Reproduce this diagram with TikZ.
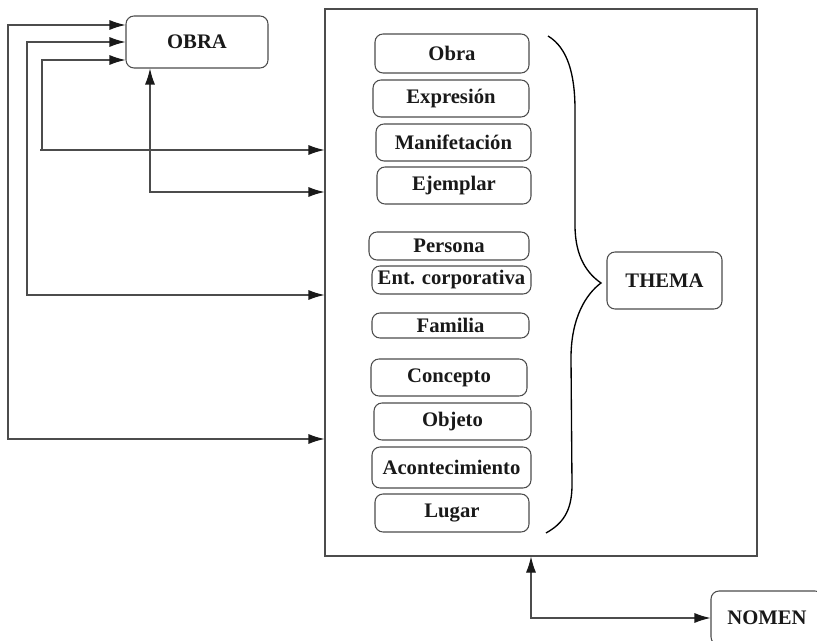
\documentclass[tikz,border=0pt]{standalone}
\usepackage{fontspec}
\setmainfont{Liberation Serif}
\usetikzlibrary{arrows.meta}
\begin{document}
\begin{tikzpicture}[x=0.75pt,y=-0.75pt,
    >={Latex[length=12pt,width=7.5pt,color=black!90]},
    linea/.style={draw=black!70,line width=0.8pt},
    caja/.style={linea,rounded corners=6pt,inner sep=2pt,
      font=\fontsize{15.5}{18}\selectfont\bfseries,text=black!90}]
    \useasboundingbox (0,0) rectangle (817,641);
    \clip (0,0) rectangle (817,641);

    \node[linea,minimum width=432*0.75pt,minimum height=547*0.75pt] (marco) at (541,282.5) {};
    \node[caja,minimum width=142*0.75pt,minimum height=52*0.75pt] (obra) at (197,42) {OBRA};
    \node[caja,minimum width=115*0.75pt,minimum height=57*0.75pt] (thema) at (664.5,280.5) {THEMA};
    \node[caja,minimum width=112*0.75pt,minimum height=54*0.75pt] (nomen) at (767,618) {NOMEN};

    \foreach \x/\y/\w/\h/\t [count=\i] in {452/53.5/154/39/Obra, 451/98.5/156/37/Expresión,
        453.5/142.5/155/37/Manifetación, 454/185.5/154/37/Ejemplar, 449/246/160/28/Persona,
        451.5/280/159/28/Ent. corporativa, 450.5/325.5/157/25/Familia, 449/377.5/156/37/Concepto,
        452.5/421.5/157/37/Objeto, 451.5/467.5/159/41/Acontecimiento, 452/513/154/38/Lugar} {
        \node[caja,minimum width=\w*0.75pt,minimum height=\h*0.75pt] (ent\i) at (\x,\y) {\t};
    }

    % llave
    \draw[line width=1pt] (548,36) .. controls (568,48) and (575,75) .. (575,110)
        -- (575,225) .. controls (575,258) and (588,274) .. (601,283)
        .. controls (586,294) and (571,318) .. (571,358)
        -- (572,485) .. controls (572,512) and (562,524) .. (546,533);

    \coordinate (l1) at (8,439);
    \coordinate (l2) at (27,295);
    \coordinate (l3) at (42,150);
    \coordinate (l4) at (150,192);
    \coordinate (l5) at (531,618);

    \draw[linea,<->] (obra.west |- 0,25) -| (l1) -- (marco.west |- l1);
    \draw[linea,<->] (obra.west |- 0,42) -| (l2) -- (marco.west |- l2);
    \draw[linea,<->] (obra.west |- 0,60) -| (l3) -- (marco.west |- l3);
    \draw[linea] (l3) -- ++(-2,0);
    \draw[linea,<->] (obra.south -| l4) -- (l4) -- (marco.west |- l4);
    \draw[linea,<->] (marco.south -| l5) -- (l5) -- (nomen.west);
\end{tikzpicture}
\end{document}
